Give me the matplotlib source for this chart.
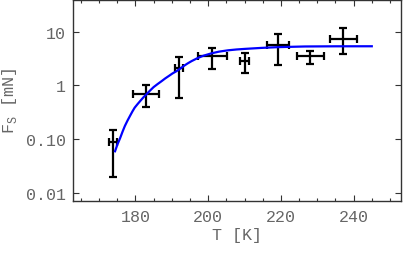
import matplotlib
matplotlib.use("Agg")
import matplotlib.pyplot as plt
from matplotlib.ticker import FixedLocator, FixedFormatter, MultipleLocator, NullLocator

# data points
T = [173.8, 183.0, 192.0, 201.1, 210.0, 219.2, 228.1, 237.1]
T_err = [1.1, 3.6, 1.1, 4.0, 1.2, 3.1, 3.7, 3.7]
F = [0.087, 0.69, 2.13, 3.49, 2.9, 5.75, 3.49, 7.42]
F_lo = [0.0195, 0.40, 0.58, 2.04, 1.72, 2.35, 2.45, 3.91]
F_hi = [0.149, 1.00, 3.40, 4.99, 4.03, 9.18, 4.45, 11.5]

# fitted curve
curve_T = [174.3, 175.0, 175.8, 176.5, 177.1, 177.8, 178.5, 179.2, 179.8, 180.6, 181.5,
           182.2, 183.0, 184.0, 185.0, 186.1, 187.2, 188.2, 189.2, 190.2, 191.3, 192.3,
           193.3, 194.3, 195.4, 197.0, 198.6, 200.9, 203.0, 205.5, 207.8, 210.1,
           214.5, 219.2, 226.6, 235.0, 245.3]
curve_F = [0.057, 0.078, 0.105, 0.140, 0.176, 0.22, 0.27, 0.33, 0.386, 0.45, 0.53,
           0.60, 0.68, 0.80, 0.93, 1.06, 1.20, 1.35, 1.50, 1.67, 1.84, 2.05,
           2.30, 2.55, 2.82, 3.20, 3.55, 3.95, 4.25, 4.50, 4.66, 4.78,
           4.98, 5.15, 5.30, 5.34, 5.35]

ytick_vals = [0.01, 0.1, 1, 10]
ytick_labels = ["0.01", "0.10", "1", "10"]
xtick_vals = [180, 200, 220, 240]

gray = "#666666"
plt.rcParams['font.family'] = ['Liberation Mono', 'DejaVu Sans Mono']

fig = plt.figure(figsize=(4.07, 2.55), dpi=100)
ax = fig.add_axes([0.179, 0.208, 0.806, 0.79])

ax.plot(curve_T, curve_F, color="#0000ff", lw=1.6, zorder=3, solid_capstyle='butt')
yerr = [[f - lo for f, lo in zip(F, F_lo)], [hi - f for f, hi in zip(F, F_hi)]]
ax.errorbar(T, F, xerr=T_err, yerr=yerr, fmt='none', ecolor='black',
            elinewidth=1.6, capsize=3, capthick=1.6, zorder=2)

ax.set_yscale('log')
ax.set_xlim(162.8, 253.0)
ax.set_ylim(0.0071, 39.6)

ax.yaxis.set_major_locator(FixedLocator(ytick_vals))
ax.yaxis.set_major_formatter(FixedFormatter(ytick_labels))
ax.yaxis.set_minor_locator(NullLocator())
ax.xaxis.set_major_locator(FixedLocator(xtick_vals))
ax.xaxis.set_minor_locator(MultipleLocator(5))

ax.tick_params(which='both', direction='in', top=True, right=True,
               colors='#333333', labelcolor=gray, labelsize=12)
ax.tick_params(which='major', length=4, width=0.8)
ax.tick_params(which='minor', length=2.5, width=0.8)
ax.tick_params(axis='x', pad=6)
ax.tick_params(axis='y', pad=5)

for s in ax.spines.values():
    s.set_color('#333333')
    s.set_linewidth(1.0)

ax.set_xlabel("T [K]", color=gray, fontsize=12, labelpad=2)
ax.set_ylabel(r"F$_\mathregular{S}$ [mN]", color=gray, fontsize=12, labelpad=5)

fig.savefig("out.png", dpi=100)
